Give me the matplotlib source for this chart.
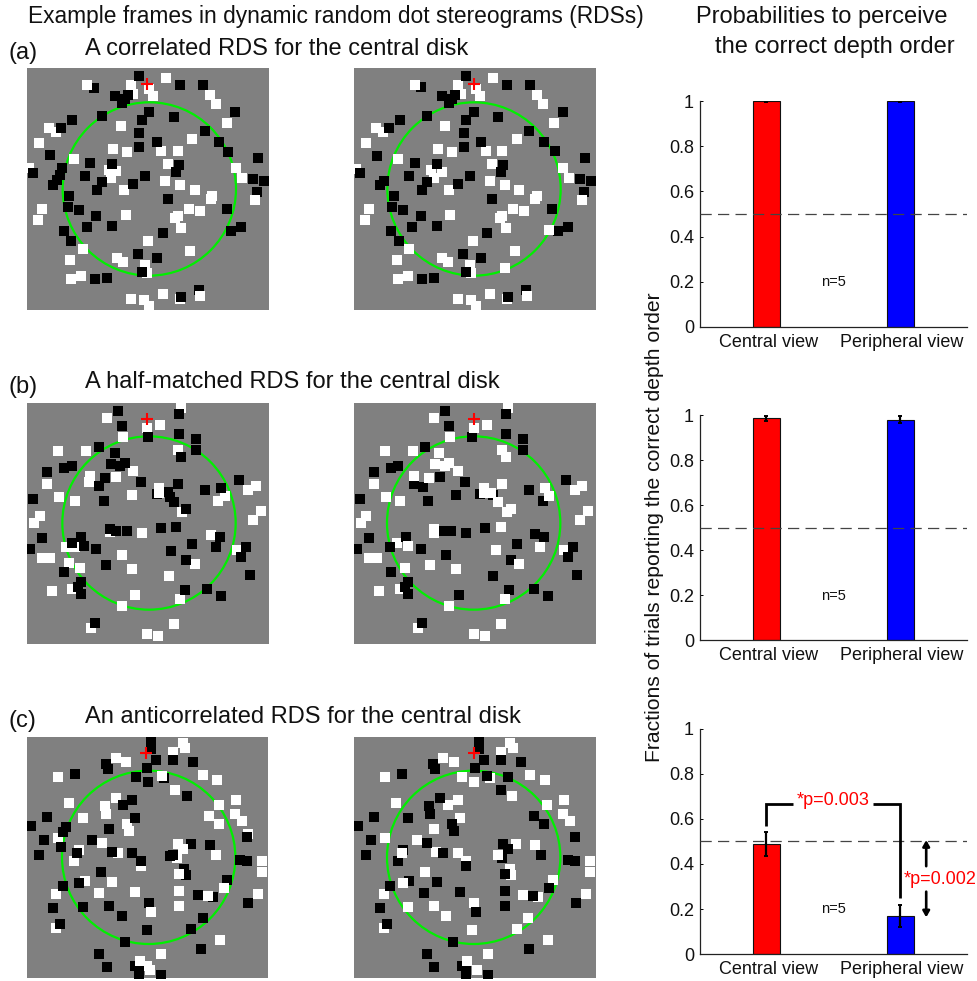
import matplotlib
matplotlib.use("Agg")
import matplotlib.pyplot as plt
from matplotlib.patches import Circle
from matplotlib.transforms import ScaledTranslation

plt.rcParams['font.family'] = ['Liberation Sans', 'DejaVu Sans']

W, H = 977, 981

# ---- bar data ----
views = ['Central view', 'Peripheral view']
yticks = [0, 0.2, 0.4, 0.6, 0.8, 1]
ytick_labels = ['0', '0.2', '0.4', '0.6', '0.8', '1']
means_a = [1.0, 1.0]
errs_a = [0.004, 0.004]
means_b = [0.985, 0.98]
errs_b = [0.012, 0.016]
means_c = [0.488, 0.169]
errs_c = [0.052, 0.05]
chance = 0.5
bar_colors = ['#ff0000', '#0000ff']

# ---- dots, in picture units of each frame ----
a_l_black = [(418,229),(282,263),(540,256),(610,256),(344,289),(385,286),(375,297),(366,308),(448,336),(425,359),(307,348),(217,359),(521,352),(706,337),(184,385),(614,392),(418,400),(470,426),(418,440),(658,426),(685,456),(151,466),(773,474),(270,489),(185,503),(337,492),(537,496),(529,515),(99,518),(180,525),(170,541),(158,555),(255,529),(436,529),(307,547),(292,570),(400,552),(759,537),(792,544),(770,576),(206,589),(503,596),(203,622),(236,629),(681,626),(288,648),(262,681),(337,678),(722,682),(692,692),(191,692),(214,722),(488,700),(414,763),(470,774),(425,815),(284,837),(322,833),(544,892),(596,870)]
a_l_white = [(392,256),(499,233),(447,268),(400,281),(458,289),(629,285),(647,311),(681,370),(362,378),(147,385),(167,396),(118,430),(577,418),(340,448),(380,455),(484,452),(533,452),(221,478),(503,492),(707,504),(725,533),(326,510),(348,514),(333,533),(495,544),(540,555),(373,570),(584,570),(636,589),(632,597),(125,626),(566,626),(599,633),(114,659),(377,644),(533,648),(524,655),(544,685),(444,722),(248,748),(570,752),(210,781),(351,774),(370,785),(436,796),(440,818),(243,829),(214,837),(392,896),(488,881),(433,900),(447,918),(540,896),(88,505)]
a_l_top = [(262,256),(599,889),(766,600)]

a_r_black = [(355,48),(218,82),(477,76),(547,76),(281,108),(322,105),(312,118),(303,129),(377,156),(355,180),(236,168),(155,179),(451,172),(644,157),(122,205),(544,212),(347,220),(400,246),(347,261),(589,246),(621,274),(88,287),(710,294),(200,309),(107,364),(266,313),(466,316),(459,336),(37,339),(96,375),(184,349),(366,349),(236,367),(221,390),(329,372),(695,357),(729,364),(707,396),(137,409),(433,416),(133,442),(166,449),(611,446),(218,468),(192,501),(266,497),(659,501),(629,512),(129,512),(152,542),(418,520),(344,583),(400,594),(355,635),(222,657),(259,653),(481,712),(533,690)]
a_r_white = [(329,76),(436,53),(384,88),(340,101),(396,109),(566,105),(584,131),(618,190),(292,198),(85,205),(104,216),(55,250),(507,238),(270,268),(311,275),(414,272),(462,272),(151,298),(433,313),(644,324),(662,353),(248,331),(281,335),(259,353),(425,364),(470,375),(303,390),(514,390),(566,409),(562,416),(62,446),(496,446),(529,453),(51,479),(307,464),(462,468),(455,475),(473,505),(374,542),(500,572),(184,568),(148,601),(281,594),(300,605),(366,616),(370,638),(470,624),(181,649),(151,657),(329,716),(425,701),(370,720),(385,738),(477,716),(25,326)]
a_r_top = [(200,76),(536,709),(703,420),(603,509)]

b_l_black = [(295,49),(477,58),(306,94),(476,116),(384,127),(529,131),(529,164),(236,157),(484,186),(284,175),(273,208),(155,212),(132,219),(80,231),(300,213),(316,205),(254,249),(236,273),(362,260),(473,268),(658,256),(554,286),(603,278),(444,292),(410,297),(451,305),(39,311),(251,319),(462,322),(499,341),(269,403),(288,407),(321,407),(422,400),(469,397),(600,426),(587,455),(517,448),(65,430),(184,426),(155,444),(191,452),(228,463),(31,463),(454,467),(677,455),(662,485),(499,496),(258,511),(132,530),(691,540),(184,562),(173,577),(184,596),(495,584),(562,581),(602,603),(225,684)]
b_l_white = [(484,38),(262,68),(380,98),(421,91),(310,127),(114,168),(199,168),(473,164),(340,227),(210,242),(208,262),(288,245),(80,268),(707,274),(684,286),(336,300),(614,304),(595,319),(118,307),(165,319),(487,352),(59,363),(43,385),(724,349),(698,374),(270,410),(366,415),(573,419),(137,455),(165,455),(65,488),(91,488),(651,466),(306,481),(147,503),(180,518),(336,522),(525,507),(446,544),(96,588),(155,581),(344,599),(481,611),(306,632),(213,698),(461,687),(380,717),(413,724)]
b_l_top = [(417,278),(417,293)]

b_r_black = [(292,49),(473,58),(303,94),(473,116),(373,127),(525,131),(525,164),(232,157),(151,212),(129,219),(77,231),(277,245),(199,267),(225,275),(351,260),(655,256),(543,286),(396,297),(325,300),(436,300),(36,311),(240,319),(584,319),(281,407),(310,407),(355,415),(410,400),(562,418),(587,426),(507,448),(62,430),(173,426),(125,455),(218,463),(28,463),(674,455),(659,485),(295,481),(488,496),(129,530),(436,544),(688,540),(181,562),(170,577),(181,596),(484,584),(558,581),(599,603),(333,599),(221,684)]
b_r_white = [(481,38),(147,444),(155,581),(648,466),(210,698)]
b_r_top = [(259,68),(377,98),(418,91),(307,127),(111,168),(196,168),(462,164),(473,186),(273,175),(262,208),(292,213),(303,205),(329,227),(199,242),(243,249),(77,268),(462,268),(703,274),(681,286),(592,278),(603,304),(407,278),(407,293),(429,293),(451,322),(488,341),(477,352),(115,307),(155,319),(55,363),(40,385),(721,349),(695,374),(259,403),(259,415),(459,397),(576,455),(181,452),(62,488),(88,488),(444,466),(514,507),(247,511),(170,518),(325,522),(92,588),(470,611),(303,632),(458,687),(377,717),(410,724)]

c_l_black = [(394,36),(394,58),(408,91),(459,91),(518,95),(258,102),(265,116),(381,113),(165,131),(348,142),(385,157),(433,143),(500,198),(337,209),(308,224),(80,261),(345,265),(33,287),(139,291),(130,305),(268,298),(73,331),(217,331),(512,342),(570,346),(124,350),(681,320),(58,376),(172,368),(275,365),(337,368),(459,376),(451,379),(364,394),(659,390),(681,394),(493,416),(497,434),(242,427),(622,449),(128,468),(176,460),(533,495),(578,502),(98,535),(190,531),(268,527),(386,520),(685,520),(305,557),(548,565),(121,583),(381,601),(514,598),(316,635),(544,657),(238,672),(260,712),(345,708),(356,720),(356,735),(423,734)]
c_l_white = [(489,39),(496,54),(459,65),(287,84),(319,95),(113,142),(548,135),(592,150),(466,180),(146,220),(287,205),(254,227),(257,253),(596,224),(648,209),(567,257),(644,253),(666,272),(190,264),(322,283),(326,302),(596,283),(685,313),(113,324),(176,361),(246,339),(294,368),(588,376),(470,383),(161,394),(725,394),(725,427),(364,409),(195,453),(275,457),(109,491),(238,490),(345,487),(478,483),(714,491),(478,527),(107,595),(599,631),(423,672),(382,708)]
c_l_top = [(426,139),(474,342),(489,357),(478,431),(611,475),(563,498),(393,546),(360,694),(389,720)]

c_r_black = [(392,36),(392,58),(407,91),(458,91),(518,95),(255,102),(262,116),(162,131),(380,113),(418,139),(481,142),(458,180),(277,205),(243,227),(247,253),(77,261),(180,265),(30,287),(311,283),(318,302),(558,257),(589,283),(70,331),(236,339),(681,320),(465,342),(481,357),(54,376),(166,361),(284,368),(151,394),(580,376),(461,383),(659,390),(681,394),(355,409),(470,431),(266,457),(184,453),(125,468),(229,490),(337,487),(470,483),(603,475),(555,498),(95,535),(470,527),(685,520),(385,546),(118,583),(314,635),(544,657),(236,672),(258,712),(343,708),(355,720),(355,735),(421,734)]
c_r_white = [(487,39),(495,54),(458,65),(285,84),(318,95),(110,142),(547,135),(592,150),(341,142),(377,157),(425,145),(492,198),(143,220),(329,209),(299,224),(596,224),(648,209),(644,253),(666,272),(337,265),(259,298),(110,324),(207,331),(503,342),(562,346),(265,365),(329,368),(355,394),(725,394),(725,427),(485,416),(489,434),(232,427),(614,449),(107,491),(525,495),(570,502),(714,491),(180,531),(259,527),(377,520),(295,557),(540,565),(107,595),(373,601),(507,598),(599,631),(421,672),(388,720)]
c_r_top = [(451,376),(162,368),(166,460),(358,694)]

# frame: pixel box (l, t), picture-unit limits, circle centre, cross position, dots
frames = [
    (27, 68.3, (81, 806), (929, 205), (448, 567), (440, 252), a_l_white, a_l_black, a_l_top),
    (354, 68, (18, 744), (749, 24), (378, 387), (377, 72), a_r_white, a_r_black, a_r_top),
    (27, 403, (21, 747), (747, 24), (387, 384), (380, 71), b_l_white, b_l_black, b_l_top),
    (354, 403, (18, 744), (747, 24), (377, 384), (377, 71), b_r_white, b_r_black, b_r_top),
    (27, 737, (21, 745), (745, 21), (386, 382), (379, 68), c_l_white, c_l_black, c_l_top),
    (354, 737, (18, 744), (745, 21), (377, 382), (377, 68), c_r_white, c_r_black, c_r_top),
]
circle_radius = 260

fig = plt.figure(figsize=(W / 100, H / 100), dpi=100, facecolor='white')


def px_axes(left, top, width, height):
    return fig.add_axes([left / W, 1 - (top + height) / H, width / W, height / H])


def ftext(x, y, s, size=17, **kw):
    fig.text(x / W, 1 - y / H, s, fontsize=size, color=kw.pop('color', '#111111'), **kw)


for l, t, xl, yl, cen, cross, white, black, top in frames:
    ax = px_axes(l, t, (xl[1] - xl[0]) / 3, (yl[0] - yl[1]) / 3)
    ax.set_xlim(*xl)
    ax.set_ylim(*yl)
    ax.set_facecolor('#808080')
    ax.set_xticks([])
    ax.set_yticks([])
    for sp in ax.spines.values():
        sp.set_visible(False)
    ax.add_patch(Circle(cen, circle_radius, fill=False, ec='#00f000', lw=1.6, zorder=1))
    for pts, col, z in ((white, 'white', 2), (black, 'black', 3), (top, 'white', 4)):
        ax.scatter([p[0] for p in pts], [p[1] for p in pts], s=58, marker='s',
                   c=col, linewidths=0, zorder=z)
    ax.scatter([cross[0]], [cross[1]], s=78, marker='+', c='#ff0000', linewidths=1.5, zorder=5)

panels = [(101.3, means_a, errs_a), (415, means_b, errs_b), (728.7, means_c, errs_c)]
bar_axes = []
for top, means, errs in panels:
    ax = px_axes(699.5, top, 267.5, 225.4)
    ax.bar([1, 2], means, width=0.2, color=bar_colors, edgecolor='#111111', linewidth=0.8, zorder=2)
    ax.errorbar([1, 2], means, yerr=errs, fmt='none', ecolor='black', elinewidth=1.6,
                capsize=1.5, capthick=1.4, zorder=3)
    ax.axhline(chance, color='#444444', lw=0.9, dashes=(9, 5), zorder=4)
    ax.set_xlim(0.5, 2.5)
    ax.set_ylim(0, 1)
    ax.set_xticks([1, 2])
    ax.set_xticklabels(views, fontsize=13, color='#111111')
    ax.set_yticks(yticks)
    ax.set_yticklabels(ytick_labels, fontsize=13, color='#111111')
    ax.tick_params(axis='x', length=0, pad=5)
    ax.tick_params(axis='y', direction='in', length=2.5, width=0.7, pad=4)
    for lab in ax.get_xticklabels():
        lab.set_transform(lab.get_transform() + ScaledTranslation(0.018, 0, fig.dpi_scale_trans))
    ax.spines['top'].set_visible(False)
    ax.spines['right'].set_visible(False)
    for s in ('left', 'bottom'):
        ax.spines[s].set_linewidth(0.9)
        ax.spines[s].set_color('#222222')
    ax.text(1.5, 0.198, 'n=5', fontsize=10.5, ha='center', va='center', color='#111111')
    bar_axes.append(ax)

ax = bar_axes[2]
lk = dict(color='black', lw=2.0, solid_joinstyle='miter', solid_capstyle='butt', zorder=5)
ax.plot([1, 1, 1.2], [0.568, 0.666, 0.666], **lk)
ax.plot([1.8, 2, 2], [0.666, 0.666, 0.247], **lk)
ax.text(1.5, 0.68, '*p=0.003', color='#ff0000', fontsize=13, ha='center', va='center')
ax.text(2.025, 0.331, '*p=0.002', color='#ff0000', fontsize=13, ha='left', va='center', clip_on=False)
akw = dict(arrowstyle='-|>,head_width=0.2,head_length=0.35', color='black', lw=1.9,
           shrinkA=0, shrinkB=0)
ax.annotate('', xy=(2.195, 0.506), xytext=(2.195, 0.39), arrowprops=akw, annotation_clip=False)
ax.annotate('', xy=(2.195, 0.163), xytext=(2.195, 0.277), arrowprops=akw, annotation_clip=False)

ftext(28, 23.5, 'Example frames in dynamic random dot stereograms (RDSs)', size=16.35)
ftext(696.5, 23.5, 'Probabilities to perceive')
ftext(715, 53, 'the correct depth order')
ftext(85, 55, 'A correlated RDS for the central disk')
ftext(85, 388.5, 'A half-matched RDS for the central disk')
ftext(85, 723, 'An anticorrelated RDS for the central disk')
ftext(8, 59, '(a)')
ftext(8, 393, '(b)')
ftext(8, 727, '(c)')
ftext(654, 527, 'Fractions of trials reporting the correct depth order', size=15.2,
      rotation=90, ha='center', va='center')

fig.savefig('out.png', dpi=100)
